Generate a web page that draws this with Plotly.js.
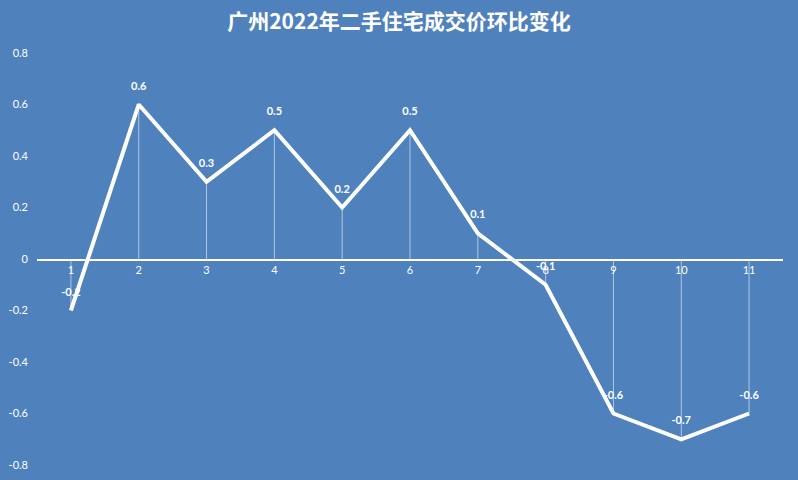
<!DOCTYPE html>
<html>
<head>
<meta charset="utf-8">
<script src="https://cdn.plot.ly/plotly-3.0.1.min.js"></script>
<style>
  html, body { margin: 0; padding: 0; background: #4f81bd; }
  #chart { width: 798px; height: 480px; }
</style>
</head>
<body>
<div id="chart"></div>
<script>
// 月份(类别) 与 环比变化
const months = [1, 2, 3, 4, 5, 6, 7, 8, 9, 10, 11]
const changes = [-0.2, 0.6, 0.3, 0.5, 0.2, 0.5, 0.1, -0.1, -0.6, -0.7, -0.6]
const yTicks = [-0.8, -0.6, -0.4, -0.2, 0, 0.2, 0.4, 0.6, 0.8]

const bg = "#4f81bd"
const fontFam = "Lato, 'Noto Sans', 'Liberation Sans', sans-serif"

// drop lines down to the axis: error bars that end at 0
const up = changes.map((v) => (v < 0 ? -v : 0))
const down = changes.map((v) => (v > 0 ? v : 0))

const line = {
  x: months,
  y: changes,
  type: "scatter",
  mode: "lines+markers+text",
  line: { color: "#ffffff", width: 4 },
  // hidden markers just to push the labels up off the line
  marker: { size: 18, color: "rgba(0,0,0,0)" },
  text: changes.map((v) => v.toFixed(1)),
  textposition: "top center",
  textfont: { color: "#ffffff", size: 11, family: fontFam, weight: "bold" },
  error_y: {
    type: "data",
    symmetric: false,
    array: up,
    arrayminus: down,
    color: "rgba(255,255,255,0.55)",
    thickness: 1,
    width: 0,
  },
  hoverinfo: "x+y",
  cliponaxis: false,
}

const layout = {
  width: 798,
  height: 480,
  paper_bgcolor: bg,
  plot_bgcolor: bg,
  margin: { l: 37, r: 15, t: 53, b: 15 },
  showlegend: false,
  title: {
    text: "<b>广州2022年二手住宅成交价环比变化</b>",
    font: { family: "'Noto Sans CJK SC', sans-serif", size: 21, color: "#ffffff" },
    x: 0.5,
    xanchor: "center",
    y: 0.955,
    yanchor: "middle",
  },
  xaxis: {
    type: "linear",
    range: [0.5, 11.5],
    tickvals: months,
    ticktext: months.map(String),
    anchor: "free",
    position: 0.5,
    showline: true,
    linecolor: "#ffffff",
    linewidth: 1.5,
    showgrid: false,
    zeroline: false,
    ticks: "",
    tickfont: { color: "#ffffff", size: 11, family: fontFam },
    fixedrange: true,
  },
  yaxis: {
    range: [-0.8, 0.8],
    tickvals: yTicks,
    ticktext: yTicks.map(String),
    showgrid: false,
    zeroline: false,
    showline: false,
    ticks: "",
    ticklabelstandoff: 8,
    tickfont: { color: "#ffffff", size: 11, family: fontFam },
    fixedrange: true,
  },
}

Plotly.newPlot("chart", [line], layout, { displayModeBar: false, staticPlot: true })
</script>
</body>
</html>
